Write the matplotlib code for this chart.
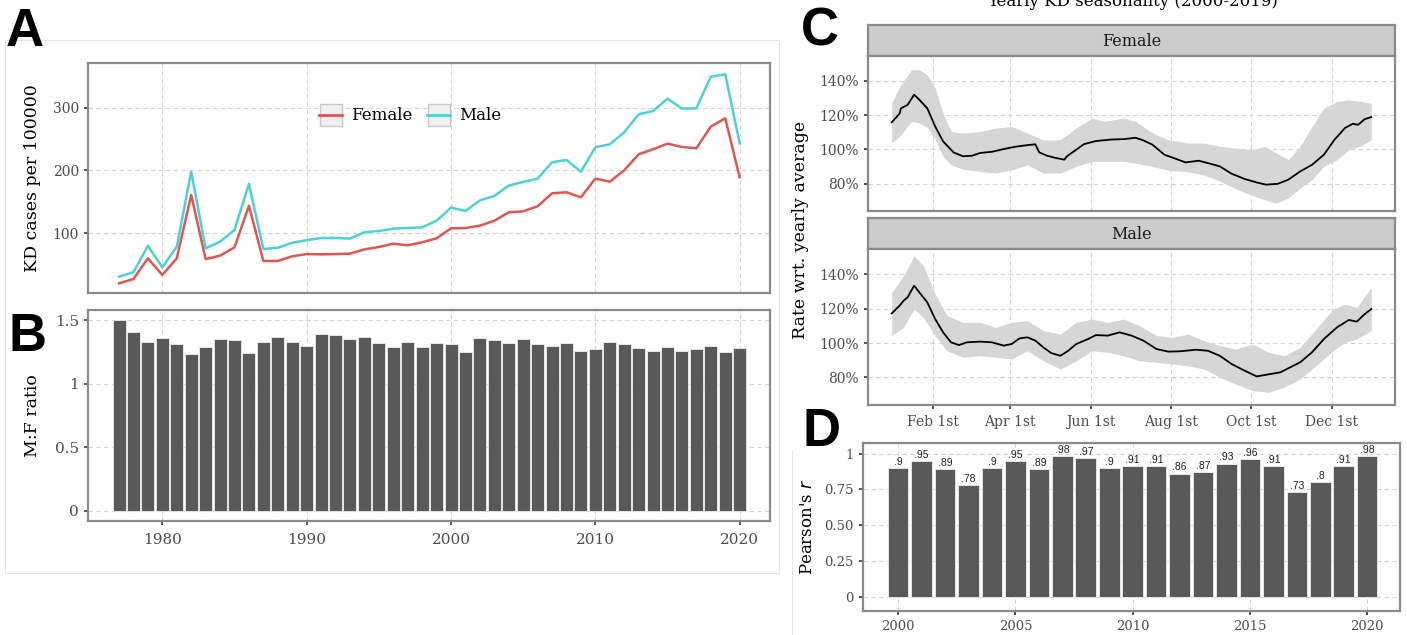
import matplotlib.pyplot as plt
from matplotlib.patches import Rectangle
from matplotlib.lines import Line2D
from matplotlib.legend_handler import HandlerTuple

# ---- panel A / B : yearly rates and M:F ratio ----
years = list(range(1977, 2021))
female_rate = [20.4, 27.3, 60.2, 33.7, 60.2, 161, 59, 64.5, 77.7, 144, 56, 56, 63.4, 67,
               66.6, 67, 67.6, 74.5, 78.2, 83.5, 81, 85.7, 92,
               108, 108.5, 112.2, 120, 133.4, 135, 143, 163.7, 165.3, 157.3, 187, 182.2,
               200.3, 225.7, 233.7, 242.7, 237.4, 235.3, 269.8, 283, 189]
male_rate = [31, 38, 80, 46, 78.8, 198, 76, 86.7, 105.3, 178.5, 75, 77, 85, 89,
             92.6, 92.6, 91.5, 101.6, 103.7, 107.4, 108.5, 109.5, 120,
             140.8, 135.5, 152.5, 159.4, 175.9, 181.7, 187, 213, 216.7, 198, 236.9, 241.6,
             260.7, 289.4, 294.7, 314.3, 298.4, 299, 349.3, 353, 243.2]
mf_ratio = [1.50, 1.41, 1.33, 1.36, 1.31, 1.23, 1.29, 1.35, 1.34, 1.24, 1.33, 1.37, 1.33, 1.30,
            1.39, 1.38, 1.35, 1.37, 1.32, 1.29, 1.33, 1.29, 1.32,
            1.31, 1.25, 1.36, 1.34, 1.32, 1.35, 1.31, 1.30, 1.32, 1.26, 1.27, 1.33,
            1.31, 1.28, 1.26, 1.29, 1.26, 1.27, 1.30, 1.25, 1.28]

# ---- panel C : seasonality (day of year, % of yearly average) ----
f_line_day = [1, 7, 8, 13, 18, 22, 28, 34, 40, 48, 55, 62, 68, 77, 86, 95, 104, 110, 113, 119,
              125, 132, 134, 141, 147, 156, 168, 177, 186, 192, 199, 208, 217, 224, 234, 241,
              250, 259, 269, 278, 285, 294, 302, 311, 320, 329, 337, 345, 351, 355, 360, 365]
f_line = [115.8, 121, 124, 126, 132, 129, 124, 113.4, 104.7, 98.2, 96, 96.3, 97.9, 98.6, 100.2,
          101.6, 102.5, 103, 98.2, 96.3, 95.1, 94, 96, 99.8, 103.1, 104.9, 105.8, 106, 106.8,
          105.3, 102.7, 96.9, 94.4, 92.4, 93.4, 92, 90.1, 85.8, 82.7, 80.7, 79.4, 79.9, 82.3,
          87.1, 91, 96.9, 105.6, 112.5, 115, 114.4, 117.7, 118.9]
f_band_day = [1, 7, 16, 22, 28, 34, 40, 46, 55, 68, 80, 92, 104, 116, 129, 141, 153, 162, 177,
              186, 199, 211, 226, 238, 250, 262, 275, 284, 293, 302, 311, 320, 329, 339, 348, 357, 365]
f_band_hi = [127, 136.8, 146.5, 146.5, 143.6, 135.8, 121.2, 110.5, 109.5, 110.5, 112.5, 113.4,
             109.5, 105.6, 105.6, 112.5, 118.3, 116.4, 118.3, 116.4, 109.5, 105.6, 103.7, 103.7,
             101.8, 100.8, 99.8, 101.8, 97.9, 94, 101.8, 113.4, 124.1, 128, 129, 128, 127]
f_band_lo = [103.7, 107.6, 116.4, 115.4, 113, 106, 95.9, 91, 88.5, 87.1, 86.2, 88, 91, 86.2,
             86.2, 90.1, 93, 93, 93, 92, 90, 87.8, 87, 85, 81.5, 77, 73, 70.5, 68.6, 71.6, 77.4,
             82.3, 90.1, 94, 99.8, 102, 105.6]

m_line_day = [1, 7, 10, 13, 18, 22, 28, 34, 40, 46, 52, 58, 68, 77, 86, 92, 98, 104, 110, 116,
              122, 129, 135, 141, 150, 156, 165, 174, 183, 192, 202, 211, 220, 232, 241, 250,
              259, 269, 278, 287, 296, 302, 311, 320, 329, 339, 348, 354, 360, 365]
m_line = [117.2, 121.7, 124.6, 126.5, 133.3, 129.4, 123.6, 113.9, 106.2, 100.4, 98.8, 100.4,
          100.8, 100.4, 98.5, 99.4, 102.7, 103.3, 101.4, 97.5, 94.2, 92.6, 95.5, 99.4, 102.3,
          104.6, 104.3, 106.2, 104.3, 101.4, 96.5, 95, 95.2, 96.1, 95.5, 92.6, 87.8, 83.9, 80.6,
          81.8, 83, 85.3, 88.8, 94.6, 102.3, 109.1, 113.4, 112.4, 116.8, 119.7]
m_band_day = [1, 10, 18, 25, 34, 43, 55, 68, 80, 92, 104, 116, 129, 141, 153, 165, 177, 189,
              202, 214, 226, 238, 250, 262, 275, 287, 299, 311, 323, 336, 345, 354, 365]
m_band_hi = [129.4, 139.1, 150.7, 144.9, 128.5, 115.9, 112, 112, 109.1, 112, 113, 107.2, 105.2,
             112, 113.9, 112, 113.9, 110.1, 104.3, 103.3, 105.2, 101.4, 98.5, 96.5, 99.4, 94.6,
             92.6, 97.5, 108.1, 119.7, 122.6, 120.7, 132.3]
m_band_lo = [104.3, 109.1, 119.7, 114.9, 104.3, 95.5, 91.7, 92.6, 91.7, 90.7, 95.5, 89.7, 84.9,
             89.7, 95.5, 94.6, 92.6, 89.7, 88.8, 87.8, 86.8, 84.9, 80.1, 76.2, 72.3, 71.4, 74.3,
             79.1, 86.8, 95.5, 100.4, 102.3, 107.2]

month_ticks = [32, 91, 152, 213, 274, 335]
month_labels = ['Feb 1st', 'Apr 1st', 'Jun 1st', 'Aug 1st', 'Oct 1st', 'Dec 1st']

# ---- panel D : yearly correlation ----
r_years = list(range(2000, 2021))
pearson_r = [0.90, 0.95, 0.89, 0.78, 0.90, 0.95, 0.89, 0.98, 0.97, 0.90, 0.91, 0.91, 0.86,
             0.87, 0.93, 0.96, 0.91, 0.73, 0.80, 0.91, 0.98]

W, H = 1407, 635
plt.rcParams['font.family'] = ['DejaVu Serif']
fig = plt.figure(figsize=(W / 100, H / 100), dpi=100)

FEMALE_C = '#E0574F'
MALE_C = '#4ED0D8'
BAR_C = '#595959'


def px_axes(l, t, r, b):
    return fig.add_axes([l / W, 1 - b / H, (r - l) / W, (b - t) / H])


def gg(ax, size=10):
    for s in ax.spines.values():
        s.set_color('#8a8a8a')
        s.set_linewidth(1.6)
    ax.grid(True, color='#d6d6d6', linestyle=(0, (4, 3)), linewidth=0.8)
    ax.set_axisbelow(True)
    ax.tick_params(length=3, width=1.2, color='#333333', labelcolor='#4d4d4d', labelsize=size)


def fig_rect(l, t, r, b, color='#e4e4e4'):
    fig.add_artist(Rectangle((l / W, 1 - b / H), (r - l) / W, (b - t) / H,
                             transform=fig.transFigure, fill=False, ec=color, lw=0.8))


# faint frames of the assembled figure
fig_rect(5, 40, 779, 573)
fig.add_artist(Line2D([792 / W, 792 / W], [1 - 450 / H, 0], transform=fig.transFigure,
                      color='#e8e8e8', lw=0.8))

# ---- A ----
axA = px_axes(88, 63, 770, 293)
gg(axA)
axA.plot(years, female_rate, color=FEMALE_C, lw=1.8)
axA.plot(years, male_rate, color=MALE_C, lw=1.8)
axA.set_xlim(1974.85, 2022.1)
axA.set_ylim(5, 371)
axA.set_yticks([100, 200, 300])
axA.set_xticks([1980, 1990, 2000, 2010, 2020])
axA.tick_params(axis='x', length=0, labelbottom=False)
axA.set_ylabel('KD cases per 100000', fontsize=12.5, labelpad=8)
keys = []
for c in (FEMALE_C, MALE_C):
    box = Line2D([], [], linestyle='none', marker='s', markersize=16,
                 markerfacecolor='#f0f0f0', markeredgecolor='#c8c8c8', markeredgewidth=1)
    keys.append((box, Line2D([], [], color=c, lw=2)))
axA.legend(keys, ['Female', 'Male'], handler_map={tuple: HandlerTuple(ndivide=1)},
           loc='center', bbox_to_anchor=(410 / W, 1 - 116 / H), bbox_transform=fig.transFigure,
           ncol=2, frameon=False, handlelength=1.4, numpoints=1, columnspacing=0.9,
           handletextpad=0.5, prop={'size': 12})

# ---- B ----
axB = px_axes(88, 310, 770, 521)
gg(axB, 11)
axB.bar(years, mf_ratio, width=0.9, color=BAR_C, edgecolor='#eeeeee', linewidth=0.6)
axB.set_xlim(1974.85, 2022.1)
axB.set_ylim(-0.079, 1.579)
axB.set_yticks([0, 0.5, 1, 1.5])
axB.set_yticklabels(['0', '0.5', '1', '1.5'])
axB.set_xticks([1980, 1990, 2000, 2010, 2020])
axB.tick_params(axis='x', pad=6)
axB.set_ylabel('M:F ratio', fontsize=12.5, labelpad=10)

# ---- C ----
c_panels = [('Female', 25, 56, 211, f_line_day, f_line, f_band_day, f_band_lo, f_band_hi),
            ('Male', 218, 249, 405, m_line_day, m_line, m_band_day, m_band_lo, m_band_hi)]
for name, st, top, bot, ld, lv, bd, blo, bhi in c_panels:
    strip = px_axes(868, st, 1395, top)
    strip.set_facecolor('#cccccc')
    for s in strip.spines.values():
        s.set_color('#8a8a8a')
        s.set_linewidth(1.6)
    strip.set_xticks([])
    strip.set_yticks([])
    strip.text(0.5, 0.48, name, transform=strip.transAxes, ha='center', va='center',
               fontsize=11.5, color='#1a1a1a')
    ax = px_axes(868, top, 1395, bot)
    gg(ax, 10)
    ax.fill_between(bd, blo, bhi, color='#d6d6d6', lw=0)
    ax.plot(ld, lv, color='black', lw=1.3)
    ax.set_xlim(-17, 383)
    ax.set_ylim(64, 154.6)
    ax.set_yticks([80, 100, 120, 140])
    ax.set_yticklabels(['80%', '100%', '120%', '140%'])
    ax.set_xticks(month_ticks)
    if name == 'Female':
        ax.tick_params(axis='x', length=0, labelbottom=False)
    else:
        ax.set_xticklabels(month_labels)
        ax.tick_params(axis='x', pad=4)

fig.text(800 / W, 1 - 230 / H, 'Rate wrt. yearly average', rotation=90, ha='center',
         va='center', fontsize=12.5)
# title is clipped by the top edge in the original figure
fig.text(1133 / W, 1 - 6 / H, 'Yearly KD seasonality (2000-2019)', ha='center',
         va='baseline', fontsize=12)

# ---- D ----
axD = px_axes(863, 443, 1400, 611)
gg(axD, 9.5)
axD.bar(r_years, pearson_r, width=0.88, color=BAR_C, edgecolor='#eeeeee', linewidth=0.6)
for yr, v in zip(r_years, pearson_r):
    lab = ('%.2f' % v).lstrip('0').rstrip('0')
    axD.text(yr, v + 0.008, lab, ha='center', va='bottom', fontsize=7.5,
             family='Liberation Sans', color='#222222')
axD.set_xlim(1998.5, 2021.4)
axD.set_ylim(-0.1, 1.074)
axD.set_yticks([0, 0.25, 0.5, 0.75, 1])
axD.set_yticklabels(['0', '0.25', '0.50', '0.75', '1'])
axD.set_xticks([2000, 2005, 2010, 2015, 2020])
axD.set_ylabel("Pearson's $\\it{r}$", fontsize=12, labelpad=6)

# panel letters
for letter, x, y in [('A', 25, 32), ('B', 28, 337), ('C', 820, 32), ('D', 821, 432)]:
    fig.text(x / W, 1 - y / H, letter, ha='center', va='center', fontsize=38,
             fontweight='heavy', family='Liberation Sans', color='black')

fig.savefig('out.png', dpi=100)
